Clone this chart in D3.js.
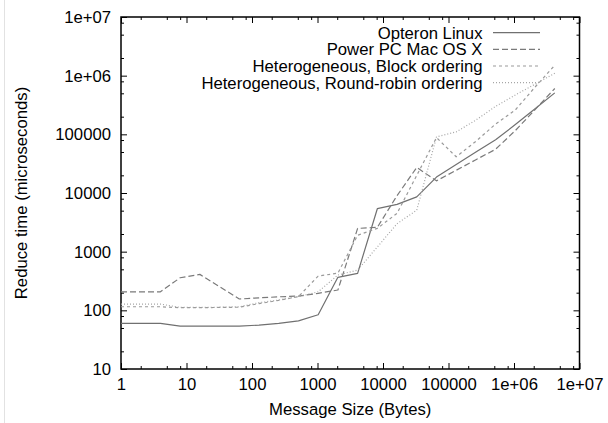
<!DOCTYPE html>
<html>
<head>
<meta charset="utf-8">
<script src="https://cdn.jsdelivr.net/npm/d3@7"></script>
<style>
  html, body { margin: 0; padding: 0; background: #fff; }
  svg { display: block; font-family: "Liberation Sans", Arial, Helvetica, sans-serif; }
</style>
</head>
<body>
<svg id="chart" width="608" height="423"></svg>
<script>
// ---- data ----
const sizes = [1, 2, 4, 8, 16, 32, 64, 128, 256, 512, 1024, 2048, 4096, 8192, 16384,
  32768, 65536, 131072, 262144, 524288, 1048576, 2097152, 4194304];

const opteronLinux = [60, 60, 60, 54, 54, 54, 54, 56, 60, 66, 84, 365, 427, 5400, 6400,
  8600, 18700, 30500, 50000, 81000, 147000, 273000, 509000];

const powerPcMac = [207, 207, 207, 359, 410, 253, 156, 163, 170, 175, 195, 222, 2490, 2600, 9000,
  27300, 16100, 24400, 36900, 55700, 116000, 264000, 605000];

const heteroBlock = [115, 115, 115, 111, 111, 112, 113, 130, 148, 171, 384, 430, 1900, 2500, 4500,
  20000, 88000, 41400, 76000, 150000, 260000, 640000, 1500000];

const heteroRoundRobin = [128, 128, 128, 112, 112, 113, 115, 135, 150, 171, 207, 400, 486, 1200, 3000,
  5100, 90600, 110000, 175000, 300000, 470000, 716000, 1100000];

const seriesNames = ["Opteron Linux", "Power PC Mac OS X",
  "Heterogeneous, Block ordering", "Heterogeneous, Round-robin ordering"];

const xTickValues = [1, 10, 100, 1000, 10000, 100000, 1e6, 1e7];
const xTickLabels = ["1", "10", "100", "1000", "10000", "100000", "1e+06", "1e+07"];
const yTickValues = [10, 100, 1000, 10000, 100000, 1e6, 1e7];
const yTickLabels = ["10", "100", "1000", "10000", "100000", "1e+06", "1e+07"];
const minorMultipliers = [2, 5, 8];

const xTitle = "Message Size (Bytes)";
const yTitle = "Reduce time (microseconds)";

// ---- layout ----
const svg = d3.select("#chart");
const L = 121, R = 579.5, T = 17, B = 369;

const x = d3.scaleLog().domain([1, 1e7]).range([L, R]);
const y = d3.scaleLog().domain([10, 1e7]).range([B, T]);

const xMinor = [];
for (let d = 1; d < 1e7; d *= 10) minorMultipliers.forEach(m => xMinor.push(d * m));
const yMinor = [];
for (let d = 10; d < 1e7; d *= 10) minorMultipliers.forEach(m => yMinor.push(d * m));

// faint page edge line
svg.append("line").attr("x1", 4.5).attr("x2", 4.5).attr("y1", 0).attr("y2", 423)
  .attr("stroke", "#e2e2e2").attr("stroke-width", 1);

const fontSize = 16.7;

function styleAxis(g) {
  g.select(".domain").remove();
  g.selectAll(".tick line").attr("stroke", "#000").attr("stroke-width", 1);
  g.selectAll("text").attr("font-size", fontSize).attr("fill", "#000")
    .attr("font-family", "Liberation Sans, Arial, sans-serif");
}

// bottom axis
svg.append("g").attr("transform", `translate(0,${B})`)
  .call(d3.axisBottom(x).tickValues(xTickValues).tickSize(-6).tickPadding(9)
    .tickFormat((d, i) => xTickLabels[i]))
  .call(styleAxis);
svg.append("g").attr("transform", `translate(0,${B})`)
  .call(d3.axisBottom(x).tickValues(xMinor).tickSize(-3).tickFormat(""))
  .call(styleAxis);
// top axis mirror
svg.append("g").attr("transform", `translate(0,${T})`)
  .call(d3.axisTop(x).tickValues(xTickValues).tickSize(-6).tickFormat(""))
  .call(styleAxis);
svg.append("g").attr("transform", `translate(0,${T})`)
  .call(d3.axisTop(x).tickValues(xMinor).tickSize(-3).tickFormat(""))
  .call(styleAxis);
// left axis
svg.append("g").attr("transform", `translate(${L},0)`)
  .call(d3.axisLeft(y).tickValues(yTickValues).tickSize(-6).tickPadding(10)
    .tickFormat((d, i) => yTickLabels[i]))
  .call(styleAxis);
svg.append("g").attr("transform", `translate(${L},0)`)
  .call(d3.axisLeft(y).tickValues(yMinor).tickSize(-3).tickFormat(""))
  .call(styleAxis);
// right axis mirror
svg.append("g").attr("transform", `translate(${R},0)`)
  .call(d3.axisRight(y).tickValues(yTickValues).tickSize(-6).tickFormat(""))
  .call(styleAxis);
svg.append("g").attr("transform", `translate(${R},0)`)
  .call(d3.axisRight(y).tickValues(yMinor).tickSize(-3).tickFormat(""))
  .call(styleAxis);

// frame
svg.append("rect").attr("x", L).attr("y", T).attr("width", R - L).attr("height", B - T)
  .attr("fill", "none").attr("stroke", "#000").attr("stroke-width", 1.5);

// axis titles
svg.append("text").attr("x", (L + R) / 2).attr("y", 415).attr("text-anchor", "middle")
  .attr("font-size", fontSize).attr("fill", "#000").text(xTitle);
svg.append("text").attr("transform", "translate(27,193) rotate(-90)")
  .attr("text-anchor", "middle").attr("font-size", fontSize).attr("fill", "#000").text(yTitle);

// series
const styles = [
  { color: "#707070", dash: null, width: 1.2 },
  { color: "#7a7a7a", dash: "6,3", width: 1.2 },
  { color: "#9a9a9a", dash: "3,3", width: 1.2 },
  { color: "#a6a6a6", dash: "1,2", width: 1.2 }
];
const seriesValues = [opteronLinux, powerPcMac, heteroBlock, heteroRoundRobin];

const line = d3.line().x(d => x(d[0])).y(d => y(d[1]));

seriesValues.forEach((vals, i) => {
  const pts = sizes.map((s, j) => [s, vals[j]]);
  svg.append("path").datum(pts)
    .attr("d", line)
    .attr("fill", "none")
    .attr("stroke", styles[i].color)
    .attr("stroke-width", styles[i].width)
    .attr("stroke-dasharray", styles[i].dash)
    .attr("stroke-linejoin", "round");
});

// legend
const legendRowY = [32.7, 49.3, 66, 82.7];
const legend = svg.append("g");
seriesNames.forEach((name, i) => {
  legend.append("text").attr("x", 482.5).attr("y", legendRowY[i] + 6)
    .attr("text-anchor", "end").attr("font-size", fontSize).attr("fill", "#000").text(name);
  legend.append("line").attr("x1", 493).attr("x2", 540)
    .attr("y1", legendRowY[i]).attr("y2", legendRowY[i])
    .attr("stroke", styles[i].color).attr("stroke-width", styles[i].width)
    .attr("stroke-dasharray", styles[i].dash);
});
</script>
</body>
</html>
